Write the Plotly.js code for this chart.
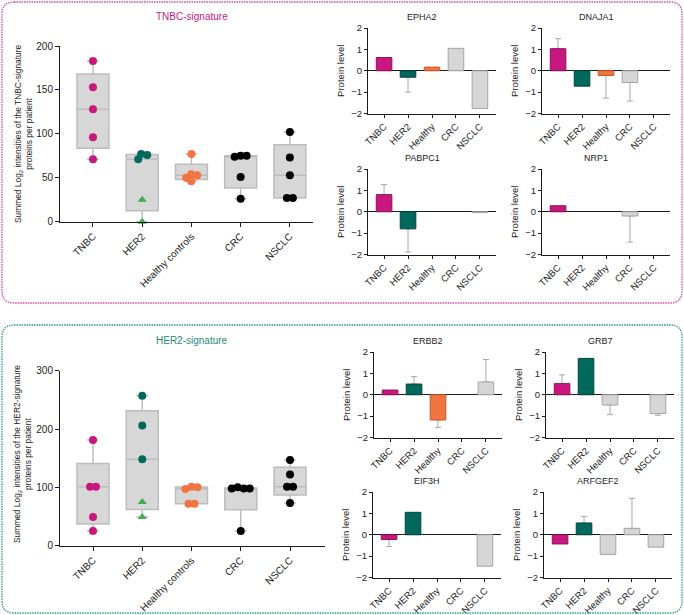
<!DOCTYPE html>
<html><head><meta charset="utf-8">
<script src="https://cdn.plot.ly/plotly-3.0.1.min.js"></script>
<style>html,body{margin:0;padding:0;background:#fff;}#chart{width:684px;height:615px;}</style>
</head><body><div id="chart"></div>
<script>
const W = 684, H = 615;

// ---------- categories ----------
const boxCategories = ['TNBC', 'HER2', 'Healthy controls', 'CRC', 'NSCLC'];
const barCategories = ['TNBC', 'HER2', 'Healthy', 'CRC', 'NSCLC'];

// ---------- TNBC-signature (summed log2 intensities per patient) ----------
const tnbcSigTNBC = [183, 153, 128, 96, 71];
const tnbcSigHER2 = [77, 76, 71];
const tnbcSigHER2Tri = [25, 0];
const tnbcSigHealthy = [77, 54, 53, 50, 46];
const tnbcSigCRC = [75, 75, 74, 51, 26];
const tnbcSigNSCLC = [102, 73, 53, 27, 27];

// ---------- HER2-signature ----------
const her2SigTNBC = [181, 101, 101, 49, 25];
const her2SigHER2 = [257, 206, 148];
const her2SigHER2Tri = [75, 49];
const her2SigHealthy = [101, 100, 97, 72, 72];
const her2SigCRC = [100, 98, 98, 98, 25];
const her2SigNSCLC = [147, 122, 101, 101, 73];

// ---------- protein levels (TNBC, HER2, Healthy, CRC, NSCLC) ----------
const epha2 = [0.62, -0.30, 0.17, 1.05, -1.77];
const epha2Err = [0, 0.70, 0, 0, 0];
const epha2Colored = ['TNBC', 'HER2', 'Healthy'];

const dnaja1 = [1.03, -0.72, -0.22, -0.55, 0];
const dnaja1Err = [0.47, 0, 1.06, 0.87, 0];
const dnaja1Colored = ['TNBC', 'HER2', 'Healthy'];

const pabpc1 = [0.80, -0.80, 0, 0, -0.04];
const pabpc1Err = [0.47, 1.08, 0, 0, 0];
const pabpc1Colored = ['TNBC', 'HER2'];

const nrp1 = [0.28, 0, 0, -0.20, 0];
const nrp1Err = [0, 0, 0, 1.22, 0];
const nrp1Colored = ['TNBC'];

const erbb2 = [0.22, 0.50, -1.18, 0, 0.60];
const erbb2Err = [0, 0.35, 0.35, 0, 1.05];
const erbb2Colored = ['TNBC', 'HER2', 'Healthy'];

const grb7 = [0.52, 1.70, -0.48, 0, -0.88];
const grb7Err = [0.41, 0, 0.45, 0, 0.08];
const grb7Colored = ['TNBC', 'HER2'];

const eif3h = [-0.22, 1.05, 0, 0, -1.47];
const eif3hErr = [0.33, 0, 0, 0, 0];
const eif3hColored = ['TNBC', 'HER2'];

const arfgef2 = [-0.43, 0.55, -0.92, 0.30, -0.58];
const arfgef2Err = [0, 0.31, 0, 1.40, 0];
const arfgef2Colored = ['TNBC', 'HER2'];

// ---------- styles ----------
const FONT = 'Liberation Sans, Arial, Helvetica, sans-serif';
const TXT = '#222';
const MAG = '#c8187f', TEAL = '#00695c', ORANGE = '#f27440', GREEN = '#3fae52', BLACK = '#000';
const GRAY = '#d6d6d6';
const fillOf = {TNBC: MAG, HER2: TEAL, Healthy: ORANGE};
const edgeOf = {TNBC: '#8f0f5a', HER2: '#00443b', Healthy: '#c2582c'};
const GRAYEDGE = '#a3a3a3';

const px = v => v / W;
const py = v => 1 - v / H;

// ---------- layout geometry ----------
const box1 = {left: 60, right: 313, top: 46, bottom: 221.7, xr: [-0.67, 4.47], yr: [0, 200], ticks: [0, 50, 100, 150, 200], titleX: 23, titleY: 134};
const box2 = {left: 60, right: 325, top: 370.7, bottom: 545.7, xr: [-0.67, 4.71], yr: [0, 300], ticks: [0, 100, 200, 300], titleX: 23, titleY: 454};
const BARW = 128, BARH = 85.5, BARXR = [-0.67, 4.67];
const barGeom = [
  {left: 368, top: 28}, {left: 542, top: 28},
  {left: 368, top: 169}, {left: 542, top: 169},
  {left: 374, top: 352}, {left: 546, top: 352},
  {left: 373, top: 492}, {left: 544, top: 492}
];
const barPanels = [
  ['EPHA2', epha2, epha2Err, epha2Colored],
  ['DNAJA1', dnaja1, dnaja1Err, dnaja1Colored],
  ['PABPC1', pabpc1, pabpc1Err, pabpc1Colored],
  ['NRP1', nrp1, nrp1Err, nrp1Colored],
  ['ERBB2', erbb2, erbb2Err, erbb2Colored],
  ['GRB7', grb7, grb7Err, grb7Colored],
  ['EIF3H', eif3h, eif3hErr, eif3hColored],
  ['ARFGEF2', arfgef2, arfgef2Err, arfgef2Colored]
];

// ---------- beeswarm offsets (computed, in category units) ----------
function swarm(values, g) {
  const pyu = (g.bottom - g.top) / (g.yr[1] - g.yr[0]);
  const pxu = (g.right - g.left) / (g.xr[1] - g.xr[0]);
  const d = 6;
  const pts = values.map(v => ({y: v * pyu, dx: 0}));
  const placed = [];
  pts.forEach(p => {
    let best = 0;
    outer: for (let k = 0; k < 200; k++) {
      const cands = k === 0 ? [0] : [k * 0.5, -k * 0.5];
      for (const c of cands) {
        if (placed.every(q => Math.hypot(q.dx - c, q.y - p.y) >= d - 1e-9)) { best = c; break outer; }
      }
    }
    p.dx = best; placed.push(p);
  });
  const sorted = [...pts].sort((a, b) => a.y - b.y);
  const clusters = []; let cl = [sorted[0]];
  for (let j = 1; j < sorted.length; j++) {
    if (sorted[j].y - sorted[j - 1].y < d) cl.push(sorted[j]); else { clusters.push(cl); cl = [sorted[j]]; }
  }
  clusters.push(cl);
  clusters.forEach(c => { const m = c.reduce((s, p) => s + p.dx, 0) / c.length; c.forEach(p => p.dx -= m); });
  return pts.map(p => p.dx / pxu);
}

const traces = [];
function addBox(vals, pos, xa, ya) {
  traces.push({type: 'box', x0: pos, y: vals, xaxis: xa, yaxis: ya, boxpoints: false,
    quartilemethod: 'exclusive', width: 0.65, whiskerwidth: 0.37,
    fillcolor: '#d7d7d7', line: {color: '#bdbdbd', width: 1.5}, hoverinfo: 'skip', showlegend: false});
}
function addPts(vals, pos, xa, ya, g, color, symbol, size) {
  const off = swarm(vals, g);
  traces.push({type: 'scatter', mode: 'markers', x: vals.map((v, i) => pos + off[i]), y: vals,
    xaxis: xa, yaxis: ya, marker: {color: color, size: size, symbol: symbol, line: {width: 0}},
    hoverinfo: 'skip', showlegend: false, cliponaxis: false});
}

// box plot 1
addBox(tnbcSigTNBC, 0, 'x', 'y');
addBox(tnbcSigHER2.concat(tnbcSigHER2Tri), 1, 'x', 'y');
addBox(tnbcSigHealthy, 2, 'x', 'y');
addBox(tnbcSigCRC, 3, 'x', 'y');
addBox(tnbcSigNSCLC, 4, 'x', 'y');
addPts(tnbcSigTNBC, 0, 'x', 'y', box1, MAG, 'circle', 8);
addPts(tnbcSigHER2, 1, 'x', 'y', box1, TEAL, 'circle', 8);
addPts(tnbcSigHER2Tri, 1, 'x', 'y', box1, GREEN, 'triangle-up', 8);
addPts(tnbcSigHealthy, 2, 'x', 'y', box1, ORANGE, 'circle', 8);
addPts(tnbcSigCRC, 3, 'x', 'y', box1, BLACK, 'circle', 8);
addPts(tnbcSigNSCLC, 4, 'x', 'y', box1, BLACK, 'circle', 8);

// box plot 2
addBox(her2SigTNBC, 0, 'x2', 'y2');
addBox(her2SigHER2.concat(her2SigHER2Tri), 1, 'x2', 'y2');
addBox(her2SigHealthy, 2, 'x2', 'y2');
addBox(her2SigCRC, 3, 'x2', 'y2');
addBox(her2SigNSCLC, 4, 'x2', 'y2');
addPts(her2SigTNBC, 0, 'x2', 'y2', box2, MAG, 'circle', 8);
addPts(her2SigHER2, 1, 'x2', 'y2', box2, TEAL, 'circle', 8);
addPts(her2SigHER2Tri, 1, 'x2', 'y2', box2, GREEN, 'triangle-up', 8);
addPts(her2SigHealthy, 2, 'x2', 'y2', box2, ORANGE, 'circle', 8);
addPts(her2SigCRC, 3, 'x2', 'y2', box2, BLACK, 'circle', 8);
addPts(her2SigNSCLC, 4, 'x2', 'y2', box2, BLACK, 'circle', 8);

// axes
const axBase = {showline: true, linecolor: '#1a1a1a', linewidth: 1, ticks: 'outside', ticklen: 3,
  tickwidth: 1, tickcolor: '#1a1a1a', showgrid: false, zeroline: false, fixedrange: true,
  tickfont: {family: FONT, size: 9.5, color: TXT}};

const layout = {
  width: W, height: H, margin: {l: 0, r: 0, t: 0, b: 0},
  paper_bgcolor: '#fff', plot_bgcolor: 'rgba(0,0,0,0)', showlegend: false,
  barmode: 'overlay', boxmode: 'overlay',
  font: {family: FONT, color: TXT},
  annotations: [], shapes: []
};

layout.xaxis = Object.assign({}, axBase, {domain: [px(box1.left), px(box1.right)], range: box1.xr, type: 'linear',
  tickvals: [0, 1, 2, 3, 4], ticktext: boxCategories, tickangle: -45, ticklen: 4, anchor: 'y',
  tickfont: {family: FONT, size: 10, color: TXT}});
layout.yaxis = Object.assign({}, axBase, {domain: [py(box1.bottom), py(box1.top)], range: box1.yr,
  tickvals: box1.ticks, ticklen: 4, anchor: 'x', tickfont: {family: FONT, size: 10, color: TXT}});
layout.xaxis2 = Object.assign({}, axBase, {domain: [px(box2.left), px(box2.right)], range: box2.xr, type: 'linear',
  tickvals: [0, 1, 2, 3, 4], ticktext: boxCategories, tickangle: -45, ticklen: 4, anchor: 'y2',
  tickfont: {family: FONT, size: 10, color: TXT}});
layout.yaxis2 = Object.assign({}, axBase, {domain: [py(box2.bottom), py(box2.top)], range: box2.yr,
  tickvals: box2.ticks, ticklen: 4, anchor: 'x2', tickfont: {family: FONT, size: 10, color: TXT}});

[[box1, 'TNBC'], [box2, 'HER2']].forEach(([g, sig]) => {
  layout.annotations.push({text: 'Summed Log<sub>2</sub> intensities of the ' + sig + '-signature<br>proteins per patient',
    xref: 'paper', yref: 'paper', x: px(g.titleX), y: py(g.titleY), xanchor: 'center', yanchor: 'middle',
    textangle: -90, showarrow: false, font: {family: FONT, size: 8.4, color: TXT}});
});

barPanels.forEach((p, k) => {
  const [name, vals, errs, colored] = p;
  const g = barGeom[k];
  const n = k + 3;
  const xa = 'x' + n, ya = 'y' + n;
  const xs = barCategories.map((c, i) => i);
  const ys = vals.map(v => v === 0 ? null : v);
  const fill = barCategories.map(c => colored.includes(c) ? fillOf[c] : GRAY);
  const edge = barCategories.map(c => colored.includes(c) ? edgeOf[c] : GRAYEDGE);
  const up = vals.map((v, i) => errs[i] > 0 ? (v >= 0 ? errs[i] : 0) : NaN);
  const dn = vals.map((v, i) => errs[i] > 0 ? (v < 0 ? errs[i] : 0) : NaN);
  traces.push({type: 'bar', x: xs, y: ys, xaxis: xa, yaxis: ya, width: 0.65,
    marker: {color: 'rgba(0,0,0,0)', line: {width: 0}},
    error_y: {type: 'data', symmetric: false, array: up, arrayminus: dn, color: '#a8a8a8', thickness: 1, width: 3},
    hoverinfo: 'skip', showlegend: false});
  traces.push({type: 'bar', x: xs, y: ys, xaxis: xa, yaxis: ya, width: 0.65,
    marker: {color: fill, line: {color: edge, width: 1}}, hoverinfo: 'skip', showlegend: false});
  layout['xaxis' + n] = Object.assign({}, axBase, {domain: [px(g.left), px(g.left + BARW)], range: BARXR,
    type: 'linear', tickvals: [0, 1, 2, 3, 4], ticktext: barCategories, tickangle: -45, anchor: ya});
  layout['yaxis' + n] = Object.assign({}, axBase, {domain: [py(g.top + BARH), py(g.top)], range: [-2, 2],
    tickvals: [-2, -1, 0, 1, 2], anchor: xa, zeroline: true, zerolinecolor: '#1a1a1a', zerolinewidth: 1,
    title: {text: 'Protein level', font: {family: FONT, size: 9.5, color: TXT}, standoff: 4}});
  layout.annotations.push({text: name, xref: 'paper', yref: 'paper', x: px(g.left + 54), y: py(g.top - 11),
    xanchor: 'center', yanchor: 'middle', showarrow: false, font: {family: FONT, size: 9, color: TXT}});
});

layout.annotations.push({text: 'TNBC-signature', xref: 'paper', yref: 'paper', x: px(192), y: py(17),
  xanchor: 'center', yanchor: 'middle', showarrow: false, font: {family: FONT, size: 10, color: MAG}});
layout.annotations.push({text: 'HER2-signature', xref: 'paper', yref: 'paper', x: px(192), y: py(340),
  xanchor: 'center', yanchor: 'middle', showarrow: false, font: {family: FONT, size: 10, color: '#1f8a7b'}});

function roundRect(x0, y0, x1, y1, r) {
  const X = v => px(v).toFixed(5), Y = v => py(v).toFixed(5);
  return 'M' + X(x0 + r) + ',' + Y(y0) + ' L' + X(x1 - r) + ',' + Y(y0) +
    ' Q' + X(x1) + ',' + Y(y0) + ' ' + X(x1) + ',' + Y(y0 + r) +
    ' L' + X(x1) + ',' + Y(y1 - r) + ' Q' + X(x1) + ',' + Y(y1) + ' ' + X(x1 - r) + ',' + Y(y1) +
    ' L' + X(x0 + r) + ',' + Y(y1) + ' Q' + X(x0) + ',' + Y(y1) + ' ' + X(x0) + ',' + Y(y1 - r) +
    ' L' + X(x0) + ',' + Y(y0 + r) + ' Q' + X(x0) + ',' + Y(y0) + ' ' + X(x0 + r) + ',' + Y(y0) + ' Z';
}
layout.shapes.push({type: 'path', xref: 'paper', yref: 'paper', path: roundRect(2, 2, 682, 303, 12),
  line: {color: '#d6499f', width: 1.3, dash: '1.5px,1px'}});
layout.shapes.push({type: 'path', xref: 'paper', yref: 'paper', path: roundRect(2, 325, 682, 613, 12),
  line: {color: '#2f9a8b', width: 1.3, dash: '1.5px,1px'}});

Plotly.newPlot('chart', traces, layout, {staticPlot: true, displayModeBar: false});
</script>
</body></html>
